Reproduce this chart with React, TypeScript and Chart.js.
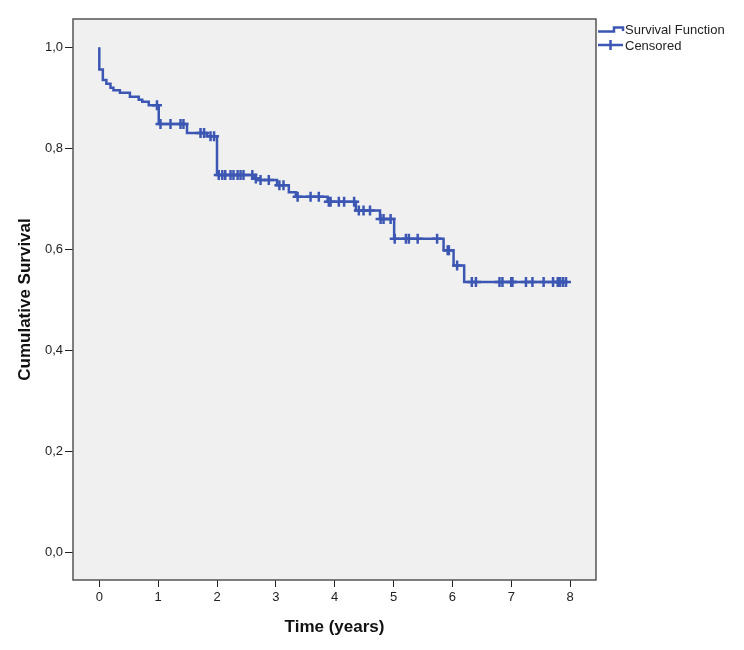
import React, { useEffect, useRef } from "react";
import { Chart, registerables } from "chart.js";

Chart.register(...registerables);

// Kaplan-Meier step points (time in years, cumulative survival)
const eventTimes = [0, 0, 0.06, 0.12, 0.19, 0.24, 0.35, 0.52, 0.67, 0.73, 0.84, 1.01, 1.49, 1.83, 2.0, 2.63, 2.71, 3.02, 3.22, 3.34, 3.88, 4.36, 4.77, 5.01, 5.85, 6.02, 6.2, 7.93];
const survival = [1.0, 0.956, 0.935, 0.928, 0.92, 0.915, 0.91, 0.902, 0.896, 0.892, 0.885, 0.848, 0.83, 0.824, 0.747, 0.74, 0.737, 0.727, 0.713, 0.704, 0.694, 0.677, 0.66, 0.621, 0.598, 0.568, 0.535, 0.535];

// Censored observations
const censorTimes = [0.98, 1.04, 1.21, 1.38, 1.43, 1.72, 1.78, 1.89, 1.95, 2.03, 2.09, 2.14, 2.23, 2.28, 2.35, 2.4, 2.45, 2.6, 2.66, 2.74, 2.88, 3.06, 3.13, 3.37, 3.59, 3.73, 3.9, 3.93, 4.07, 4.16, 4.33, 4.41, 4.49, 4.6, 4.78, 4.83, 4.95, 5.02, 5.21, 5.26, 5.41, 5.74, 5.92, 5.94, 6.08, 6.33, 6.4, 6.8, 6.85, 7.0, 7.02, 7.25, 7.36, 7.55, 7.71, 7.79, 7.83, 7.88, 7.93];
const censorSurvival = [0.885, 0.848, 0.848, 0.848, 0.848, 0.83, 0.83, 0.824, 0.824, 0.747, 0.747, 0.747, 0.747, 0.747, 0.747, 0.747, 0.747, 0.747, 0.74, 0.737, 0.737, 0.727, 0.727, 0.704, 0.704, 0.704, 0.694, 0.694, 0.694, 0.694, 0.694, 0.677, 0.677, 0.677, 0.66, 0.66, 0.66, 0.621, 0.621, 0.621, 0.621, 0.621, 0.598, 0.598, 0.568, 0.535, 0.535, 0.535, 0.535, 0.535, 0.535, 0.535, 0.535, 0.535, 0.535, 0.535, 0.535, 0.535, 0.535];

const xTicks = [0, 1, 2, 3, 4, 5, 6, 7, 8];
const yTicks = [0, 0.2, 0.4, 0.6, 0.8, 1.0];

const legendLabels = ["Survival Function", "Censored"];

const LINE = "#3c57b3";
const FONT = '"Liberation Sans", Arial, sans-serif';

export default function App() {
  const ref = useRef<HTMLCanvasElement>(null);

  useEffect(() => {
    if (!ref.current) return;

    const background = {
      id: "background",
      beforeDraw(chart: any) {
        const { ctx, chartArea } = chart;
        const { left, top, right, bottom } = chartArea;
        ctx.save();
        ctx.fillStyle = "#ffffff";
        ctx.fillRect(0, 0, chart.width, chart.height);
        ctx.fillStyle = "#f0f0f0";
        ctx.fillRect(left, top, right - left, bottom - top);
        ctx.restore();
      },
      beforeDatasetsDraw(chart: any) {
        const { ctx, chartArea } = chart;
        const { left, top, right, bottom } = chartArea;
        ctx.save();
        ctx.strokeStyle = "#555555";
        ctx.lineWidth = 1.5;
        ctx.strokeRect(left, top, right - left, bottom - top);
        ctx.restore();
      },
      afterDraw(chart: any) {
        const { ctx } = chart;
        ctx.save();
        ctx.strokeStyle = LINE;
        ctx.lineWidth = 2.5;
        // step icon
        ctx.beginPath();
        ctx.moveTo(598, 31.5);
        ctx.lineTo(614, 31.5);
        ctx.lineTo(614, 27.5);
        ctx.lineTo(623, 27.5);
        ctx.lineTo(623, 31);
        ctx.stroke();
        // censored icon
        ctx.beginPath();
        ctx.moveTo(598, 45);
        ctx.lineTo(623, 45);
        ctx.moveTo(610.5, 40);
        ctx.lineTo(610.5, 50);
        ctx.stroke();
        ctx.fillStyle = "#222";
        ctx.font = `13px ${FONT}`;
        ctx.textBaseline = "middle";
        ctx.textAlign = "left";
        ctx.fillText(legendLabels[0], 625, 30);
        ctx.fillText(legendLabels[1], 625, 46.5);
        ctx.restore();
      },
    };

    const chart = new Chart(ref.current, {
      type: "scatter",
      data: {
        datasets: [
          {
            label: legendLabels[0],
            data: eventTimes.map((t, i) => ({ x: t, y: survival[i] })),
            showLine: true,
            stepped: "before",
            borderColor: LINE,
            borderWidth: 2.5,
            pointRadius: 0,
            fill: false,
          } as any,
          {
            label: legendLabels[1],
            data: censorTimes.map((t, i) => ({ x: t, y: censorSurvival[i] })),
            showLine: false,
            pointStyle: "cross",
            pointRadius: 5,
            borderWidth: 2.5,
            borderColor: LINE,
            backgroundColor: LINE,
          } as any,
        ],
      },
      options: {
        animation: false,
        responsive: true,
        maintainAspectRatio: false,
        layout: { padding: { left: 0, top: 19, right: 148, bottom: 0 } },
        plugins: {
          legend: { display: false },
          tooltip: { enabled: false },
        },
        scales: {
          x: {
            type: "linear",
            min: -0.447,
            max: 8.44,
            afterBuildTicks: (s: any) => {
              s.ticks = xTicks.map((v) => ({ value: v }));
            },
            afterFit: (s: any) => {
              s.height = 70;
            },
            border: { display: false },
            grid: {
              drawOnChartArea: false,
              drawTicks: true,
              tickLength: 7,
              color: "#222",
              lineWidth: 1,
            },
            ticks: {
              callback: (v: any) => String(v),
              font: { size: 13, family: FONT },
              color: "#222",
              padding: 3,
              maxRotation: 0,
              autoSkip: false,
            },
            title: {
              display: true,
              text: "Time (years)",
              font: { size: 17, weight: "bold", family: FONT },
              color: "#111",
              padding: { top: 0, bottom: 12 },
            },
          },
          y: {
            type: "linear",
            min: -0.055,
            max: 1.056,
            afterBuildTicks: (s: any) => {
              s.ticks = yTicks.map((v) => ({ value: v }));
            },
            afterFit: (s: any) => {
              s.width = 73;
            },
            border: { display: false },
            grid: {
              drawOnChartArea: false,
              drawTicks: true,
              tickLength: 8,
              color: "#222",
              lineWidth: 1,
            },
            ticks: {
              callback: (v: any) => Number(v).toFixed(1).replace(".", ","),
              font: { size: 13, family: FONT },
              color: "#222",
              padding: 2,
              autoSkip: false,
            },
            title: {
              display: true,
              text: "Cumulative Survival",
              font: { size: 17, weight: "bold", family: FONT },
              color: "#111",
              padding: { top: 15, bottom: 0 },
            },
          },
        },
      } as any,
      plugins: [background],
    });

    return () => chart.destroy();
  }, []);

  return (
    <div style={{ position: "absolute", left: 0, top: 0, width: 744, height: 650 }}>
      <canvas ref={ref} />
    </div>
  );
}
